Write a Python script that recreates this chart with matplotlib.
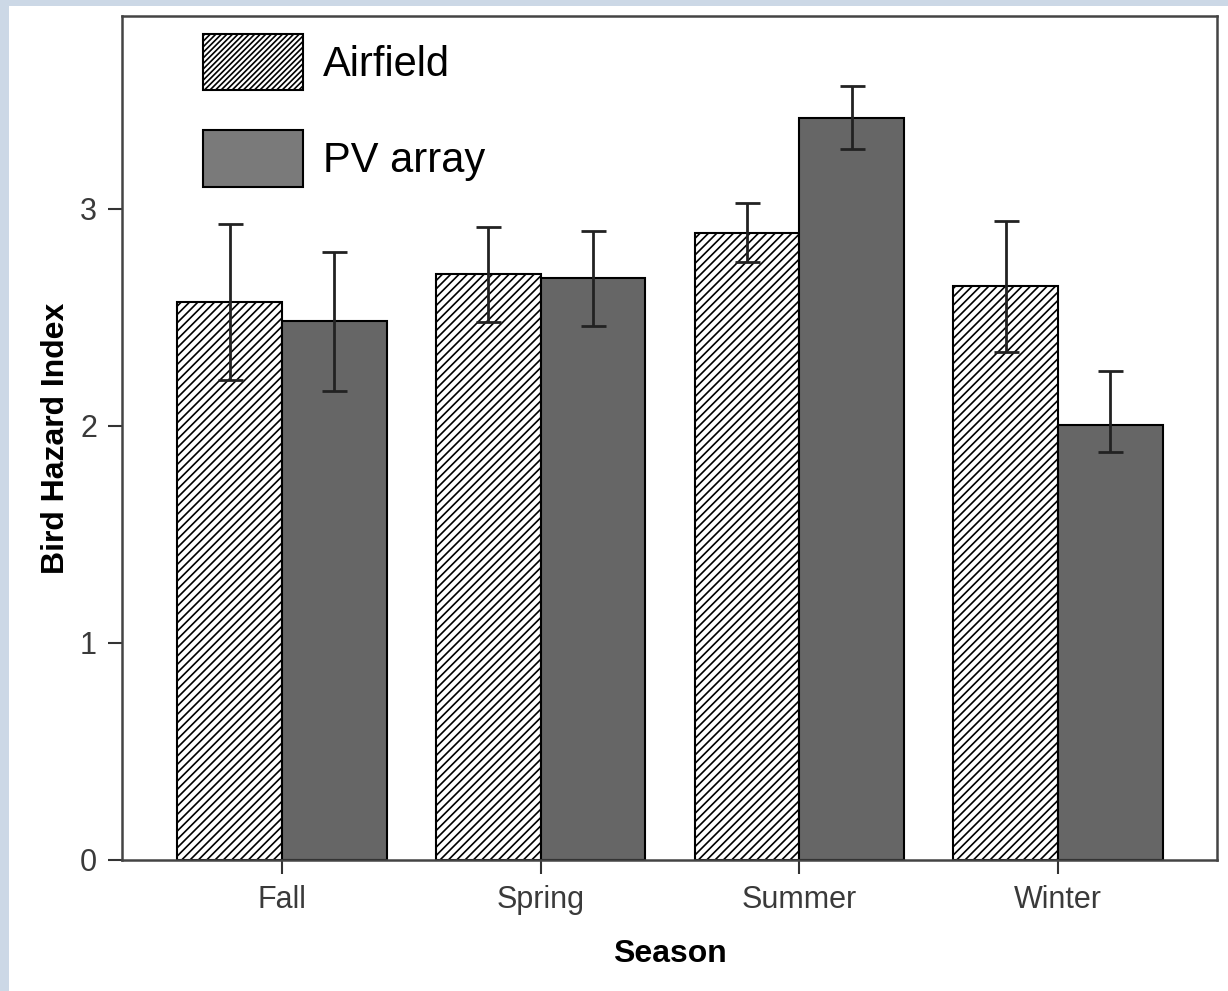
import matplotlib.pyplot as plt
import numpy as np
from matplotlib.patches import Patch, Rectangle

plt.rcParams['font.family'] = ['Liberation Sans', 'DejaVu Sans']
plt.rcParams['hatch.linewidth'] = 1.2

# Bird hazard index by season, mean with 95% CI
seasons = ['Fall', 'Spring', 'Summer', 'Winter']
airfield = [2.57, 2.70, 2.89, 2.645]
airfield_lo = [2.21, 2.48, 2.756, 2.34]
airfield_hi = [2.93, 2.917, 3.028, 2.945]
pv_array = [2.485, 2.68, 3.42, 2.005]
pv_lo = [2.16, 2.46, 3.276, 1.88]
pv_hi = [2.80, 2.90, 3.567, 2.253]
yticks = [0, 1, 2, 3]

fig = plt.figure(figsize=(12.28, 9.91), dpi=100, facecolor='#ccd8e6')
fig.add_artist(Rectangle((9 / 1228, 0), 1, 1 - 6 / 991, transform=fig.transFigure,
                         facecolor='white', edgecolor='none', zorder=0))
ax = fig.add_axes([0.0993, 0.1322, 0.8917, 0.8517])

x = np.arange(len(seasons))
w = 0.405
a = np.array(airfield)
p = np.array(pv_array)
a_err = [a - np.array(airfield_lo), np.array(airfield_hi) - a]
p_err = [p - np.array(pv_lo), np.array(pv_hi) - p]

ax.bar(x - w / 2, a, w, color='white', edgecolor='black', hatch='////', linewidth=1.5)
ax.bar(x + w / 2, p, w, color='#666666', edgecolor='black', linewidth=1.5)
ax.errorbar(x - w / 2, a, yerr=a_err, fmt='none', ecolor='#222222', elinewidth=2,
            capsize=9, capthick=2)
ax.errorbar(x + w / 2, p, yerr=p_err, fmt='none', ecolor='#222222', elinewidth=2,
            capsize=9, capthick=2)

ax.set_xlim(-0.6186, 3.6146)
ax.set_ylim(0, 3.889)
ax.set_xticks(x)
ax.set_xticklabels(seasons)
ax.set_yticks(yticks)
ax.tick_params(direction='out', length=10, width=1.5, labelsize=22, labelcolor='#3a3a3a',
               color='#333333', pad=8)
for s in ax.spines.values():
    s.set_linewidth(1.8)
    s.set_color('#444444')

ax.set_xlabel('Season', fontsize=23, fontweight='bold', labelpad=17)
ax.set_ylabel('Bird Hazard Index', fontsize=23, fontweight='bold', labelpad=6)

handles = [Patch(facecolor='white', edgecolor='black', hatch='//////', linewidth=1.5),
           Patch(facecolor='#7a7a7a', edgecolor='black', linewidth=1.5)]
ax.legend(handles, ['Airfield', 'PV array'], loc='upper left', bbox_to_anchor=(0.074, 0.979),
          frameon=False, fontsize=30, handlelength=2.4, handleheight=1.72,
          labelspacing=0.95, handletextpad=0.48, borderpad=0, borderaxespad=0)

fig.savefig('out.png', dpi=100, facecolor=fig.get_facecolor())
